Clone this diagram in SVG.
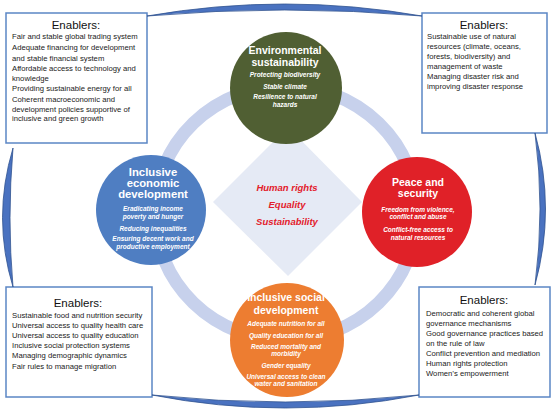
<svg xmlns="http://www.w3.org/2000/svg" width="553" height="415" viewBox="0 0 553 415">
<style>
.box{fill:#fff;stroke:#5b86c5;stroke-width:1.5}
.eh{font-family:"Liberation Sans",Arial,sans-serif;font-size:11.5px;fill:#111;text-anchor:middle}
.el{font-family:"Liberation Sans",Arial,sans-serif;font-size:7.7px;fill:#222}
.ct{font-family:"Liberation Sans",Arial,sans-serif;font-size:10.5px;font-weight:bold;fill:#fff;text-anchor:middle}
.ci{font-family:"Liberation Sans",Arial,sans-serif;font-size:6.5px;font-weight:bold;font-style:italic;fill:#fff;text-anchor:middle}
.dt{font-family:"Liberation Sans",Arial,sans-serif;font-size:9.5px;font-weight:bold;font-style:italic;fill:#e3202b;text-anchor:middle}
.cr{fill:#4a72c0;stroke:#2f528f;stroke-width:0.8}
</style>
<rect width="553" height="415" fill="#fff"/>
<g id="ring">
<ellipse cx="286" cy="213" rx="131" ry="127" fill="none" stroke="#c7d1ec" stroke-width="13"/>
</g>
<g id="core">
<polygon points="288,127 362,202 288,276 213,202" fill="#e5eaf5"/>
<text class="dt" x="287" y="191">Human rights</text>
<text class="dt" x="287" y="208">Equality</text>
<text class="dt" x="287" y="225">Sustainability</text>
</g>
<g id="environmental">
<circle cx="286" cy="88" r="56" fill="#505f33"/>
<text class="ct" x="285" y="54">Environmental</text>
<text class="ct" x="285" y="66">sustainability</text>
<text class="ci" x="285" y="77">Protecting biodiversity</text>
<text class="ci" x="285" y="89">Stable climate</text>
<text class="ci" x="285" y="99">Resilience to natural</text>
<text class="ci" x="285" y="107">hazards</text>
</g>
<g id="economic">
<circle cx="151" cy="210" r="55" fill="#4f7ec2"/>
<text class="ct" x="153" y="176" style="font-size:11.3px">Inclusive</text>
<text class="ct" x="153" y="187" style="font-size:11.3px">economic</text>
<text class="ct" x="153" y="198" style="font-size:11.3px">development</text>
<text class="ci" x="153" y="211">Eradicating income</text>
<text class="ci" x="153" y="219">poverty and hunger</text>
<text class="ci" x="153" y="231">Reducing  inequalities</text>
<text class="ci" x="153" y="241">Ensuring decent work and</text>
<text class="ci" x="153" y="249">productive employment</text>
</g>
<g id="peace">
<circle cx="417" cy="212" r="55" fill="#e02128"/>
<text class="ct" x="418" y="186">Peace and</text>
<text class="ct" x="418" y="197">security</text>
<text class="ci" x="418" y="212">Freedom from violence,</text>
<text class="ci" x="418" y="219">conflict and abuse</text>
<text class="ci" x="418" y="232">Conflict-free access to</text>
<text class="ci" x="418" y="240">natural resources</text>
</g>
<g id="social">
<circle cx="287" cy="340" r="57" fill="#ed7d31"/>
<text class="ct" x="286" y="301">Inclusive social</text>
<text class="ct" x="286" y="314">development</text>
<text class="ci" x="286" y="326">Adequate nutrition for all</text>
<text class="ci" x="286" y="338">Quality education for all</text>
<text class="ci" x="286" y="349">Reduced mortality and</text>
<text class="ci" x="286" y="356">morbidity</text>
<text class="ci" x="286" y="368">Gender equality</text>
<text class="ci" x="286" y="379">Universal access to clean</text>
<text class="ci" x="286" y="386">water and sanitation</text>
</g>
<g id="enablers-tl">
<rect class="box" x="6" y="13" width="141" height="130"/>
<text class="eh" x="76" y="29">Enablers:</text>
<text class="el" x="12" y="39">Fair and stable global trading system</text>
<text class="el" x="12" y="50">Adequate financing for development</text>
<text class="el" x="12" y="61">and stable financial system</text>
<text class="el" x="12" y="71">Affordable access to technology and</text>
<text class="el" x="12" y="81">knowledge</text>
<text class="el" x="12" y="91">Providing sustainable energy for all</text>
<text class="el" x="12" y="102">Coherent macroeconomic and</text>
<text class="el" x="12" y="112">development policies supportive of</text>
<text class="el" x="12" y="121">inclusive and green growth</text>
</g>
<g id="enablers-tr">
<rect class="box" x="422" y="13" width="125" height="120"/>
<text class="eh" x="484" y="29">Enablers:</text>
<text class="el" x="427" y="39">Sustainable use of  natural</text>
<text class="el" x="427" y="49">resources (climate, oceans,</text>
<text class="el" x="427" y="59">forests, biodiversity) and</text>
<text class="el" x="427" y="69">management of waste</text>
<text class="el" x="427" y="79">Managing disaster risk and</text>
<text class="el" x="427" y="89">improving disaster response</text>
</g>
<g id="enablers-bl">
<rect class="box" x="6" y="287" width="146" height="110"/>
<text class="eh" x="78" y="307">Enablers:</text>
<text class="el" x="12" y="318">Sustainable food and nutrition security</text>
<text class="el" x="12" y="328">Universal access to quality health  care</text>
<text class="el" x="12" y="338">Universal access to quality education</text>
<text class="el" x="12" y="348">Inclusive social protection systems</text>
<text class="el" x="12" y="358">Managing demographic dynamics</text>
<text class="el" x="12" y="369">Fair rules to manage migration</text>
</g>
<g id="enablers-br">
<rect class="box" x="419" y="287" width="131" height="110"/>
<text class="eh" x="484" y="304">Enablers:</text>
<text class="el" x="426" y="316">Democratic and coherent global</text>
<text class="el" x="426" y="326">governance mechanisms</text>
<text class="el" x="426" y="336">Good governance practices based</text>
<text class="el" x="426" y="346">on the rule of law</text>
<text class="el" x="426" y="356">Conflict prevention and mediation</text>
<text class="el" x="426" y="366">Human rights protection</text>
<text class="el" x="426" y="376">Women’s empowerment</text>
</g>
<g id="connectors">
<path class="cr" d="M147,16 Q285,-8 422,16 Q285,4 147,16 Z"/>
<path class="cr" d="M535,133 Q556,209 535,285 Q545,209 535,133 Z"/>
<path class="cr" d="M13,148 Q-8,218 13,287 Q7,218 13,148 Z"/>
<path class="cr" d="M152,395 Q285,421 419,395 Q285,409 152,395 Z"/>
</g>
</svg>
